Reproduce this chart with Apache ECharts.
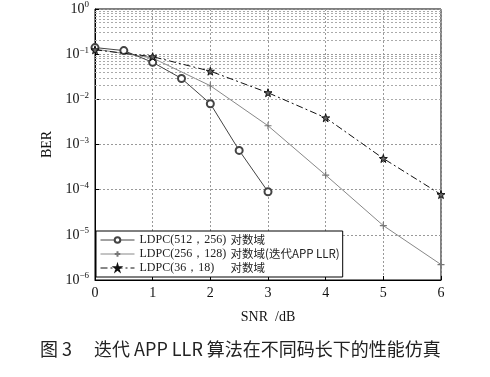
<!DOCTYPE html>
<html><head><meta charset="utf-8">
<script src="https://cdn.jsdelivr.net/npm/echarts@6/dist/echarts.min.js"></script>
<style>html,body{margin:0;padding:0;background:#fff}#c{width:490px;height:377px}</style>
</head><body><div id="c"></div>
<script>
var snrA = [0, 0.5, 1, 1.5, 2, 2.5, 3];
var berA = [0.14, 0.12, 0.066, 0.029, 0.008, 7.4e-4, 9e-5];
var snrB = [0, 1, 2, 3, 4, 5, 6];
var berB = [0.13, 0.082, 0.02, 0.0026, 2.1e-4, 1.6e-5, 2.2e-6];
var snrC = [0, 1, 2, 3, 4, 5, 6];
var berC = [0.125, 0.088, 0.042, 0.014, 0.0039, 4.9e-4, 7.8e-5];
var namesCode = ['LDPC(512，256)', 'LDPC(256，128)', 'LDPC(36，18)'];
var namesDomain = ['对数域', '对数域(迭代APP LLR)', '对数域'];
var xTicks = [0, 1, 2, 3, 4, 5, 6];
var caption = '图 3　 迭代 APP LLR 算法在不同码长下的性能仿真';

function pairs(xs, ys){ return xs.map(function(x,i){return [x, ys[i]];}); }
var minorLines = [];
for (var e = -6; e < 0; e++) for (var m = 2; m <= 9; m++) minorLines.push({yAxis: m * Math.pow(10, e)});

var serif = '"Liberation Serif","DejaVu Serif",serif';
var star = 'path://M50,0 L61,35 L98,35 L68,57 L79,91 L50,70 L21,91 L32,57 L2,35 L39,35 Z';
var plus = 'path://M0,50 L100,50 M50,0 L50,100';

var chart = echarts.init(document.getElementById('c'), null, {renderer:'canvas'});
chart.setOption({
  animation: false,
  backgroundColor: '#fff',
  grid: {left: 95, right: 49, top: 9, bottom: 97, show: true, borderColor: '#000', borderWidth: 1, backgroundColor: 'transparent'},
  xAxis: {
    type: 'value', min: 0, max: 6, interval: 1,
    name: 'SNR  /dB', nameLocation: 'middle', nameGap: 30,
    nameTextStyle: {fontFamily: serif, fontSize: 14, color: '#111'},
    axisLine: {show: true, lineStyle: {color: '#000'}},
    axisTick: {inside: true, length: 4, lineStyle: {color: '#000'}},
    axisLabel: {fontFamily: serif, fontSize: 14, color: '#111', margin: 6,
      formatter: function(v){ return xTicks.indexOf(v) >= 0 ? String(v) : ''; }},
    splitLine: {show: true, lineStyle: {color: '#999', type: [2, 2], width: 1}}
  },
  yAxis: {
    type: 'log', logBase: 10, min: 1e-6, max: 1,
    name: 'BER', nameLocation: 'middle', nameGap: 38,
    nameTextStyle: {fontFamily: serif, fontSize: 14, color: '#111'},
    axisLine: {show: true, lineStyle: {color: '#000'}},
    axisTick: {inside: true, length: 4, lineStyle: {color: '#000'}},
    axisLabel: {margin: 6, color: '#111',
      formatter: function(v){ var e = Math.round(Math.log10(v)); return '{b|10}{s|' + (e < 0 ? '−' + (-e) : e) + '}'; },
      rich: {b: {fontFamily: serif, fontSize: 14, color: '#111'}, s: {fontFamily: serif, fontSize: 9, color: '#111', verticalAlign: 'top', padding: [0,0,8,0]}}
    },
    splitLine: {show: true, lineStyle: {color: '#999', type: [2, 2], width: 1}}
  },
  legend: {
    orient: 'vertical', left: 96, top: 231,
    backgroundColor: '#fff', borderColor: '#000', borderWidth: 1,
    padding: [3, 3, 3, 4], itemGap: 2, itemWidth: 34, itemHeight: 7,
    lineStyle: {width: 1},
    data: namesCode,
    formatter: function(name){ var i = namesCode.indexOf(name); return '{a|' + name + '}{b|' + namesDomain[i] + '}'; },
    textStyle: {rich: {
      a: {fontFamily: serif, fontSize: 12, lineHeight: 13, color: '#222', width: 91},
      b: {fontFamily: '"Noto Sans CJK SC", ' + serif, fontSize: 11.5, lineHeight: 13, color: '#222'}
    }}
  },
  series: [
    {name: namesCode[0], type: 'line', data: pairs(snrA, berA), symbol: 'emptyCircle', symbolSize: 7,
      lineStyle: {color: '#444', width: 1}, itemStyle: {color: '#444', borderColor: '#444', borderWidth: 1}, z: 5},
    {name: namesCode[1], type: 'line', data: pairs(snrB, berB), symbol: plus, symbolSize: 7,
      lineStyle: {color: '#888', width: 1}, itemStyle: {color: 'none', borderColor: '#777', borderWidth: 1.2}, z: 4},
    {name: namesCode[2], type: 'line', data: pairs(snrC, berC), symbol: star, symbolSize: 8,
      lineStyle: {color: '#111', width: 1, type: [7, 3, 2, 3]}, itemStyle: {color: '#666', borderColor: '#111', borderWidth: 1}, z: 6},
    {type: 'line', data: [], silent: true, z: 1,
      markLine: {silent: true, symbol: 'none', label: {show: false}, animation: false,
        lineStyle: {color: '#aaa', type: [2, 2], width: 1}, data: minorLines}}
  ],
  graphic: [
    {type: 'text', left: 40, top: 340, style: {text: caption, font: '18px "Noto Sans CJK SC", sans-serif', fill: '#222'}}
  ]
});
</script></body></html>
